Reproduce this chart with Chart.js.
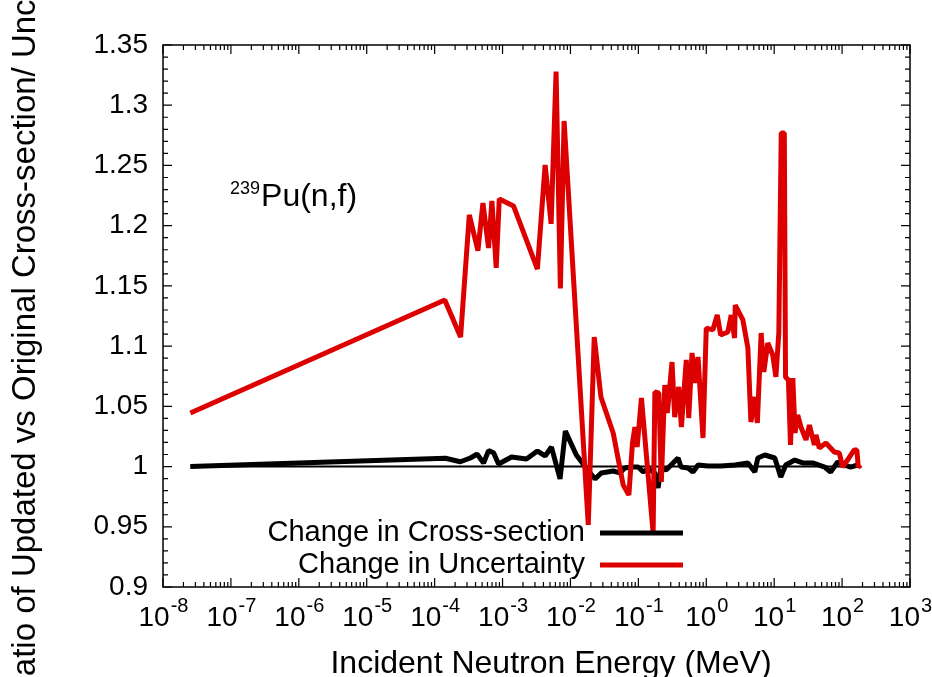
<!DOCTYPE html>
<html>
<head>
<meta charset="utf-8">
<script src="https://cdn.jsdelivr.net/npm/chart.js@4"></script>
<style>
  body { margin: 0; background: #fff; }
  #wrap { width: 932px; height: 677px; }
</style>
</head>
<body>
<div id="wrap"><canvas id="chartCanvas" width="932" height="677"></canvas></div>
<script>
// energies in MeV, ratios
const xsEnergy = [2.53e-8, 1.44e-4, 2.39e-4, 3.36e-4, 4.2e-4, 5.26e-4, 6.22e-4, 7.38e-4, 8.73e-4, 1.36e-3,
  2.25e-3, 3.26e-3, 4.24e-3, 5.25e-3, 7.03e-3, 8.41e-3, 1.22e-2, 1.64e-2, 2.3e-2, 2.84e-2,
  4.27e-2, 5.35e-2, 6.33e-2, 7.84e-2, 9.93e-2, 0.118, 0.139, 0.175, 0.195, 0.216,
  0.256, 0.303, 0.384, 0.425, 0.538, 0.638, 0.756, 1.06, 1.64, 2.64,
  4.1, 5.19, 5.74, 7.28, 10.2, 12.5, 14.8, 20.1, 26.3, 36.9,
  55.4, 67.8, 85.9, 109, 133, 169];
const xsRatio = [1.0, 1.0069, 1.004, 1.0071, 1.0104, 1.0029, 1.0132, 1.0115, 1.0021, 1.0079,
  1.0063, 1.0129, 1.0088, 1.0162, 0.9897, 1.0295, 1.0096, 1.0, 0.9897, 0.9947,
  0.9963, 0.9947, 0.9988, 0.9996, 0.9996, 0.9955, 0.998, 0.9947, 0.9822, 0.9996,
  0.9971, 1.0013, 1.0071, 0.9996, 0.9988, 0.9955, 1.0013, 1.0004, 1.0004, 1.0013,
  1.003, 0.9955, 1.0071, 1.0096, 1.0071, 0.9913, 1.0013, 1.0054, 1.003, 1.003,
  0.9996, 0.9955, 1.0038, 1.0013, 0.9996, 1.0013];

const uncEnergy = [2.53e-8, 1.41e-4, 2.41e-4, 3.24e-4, 4.34e-4, 5.14e-4, 6.22e-4, 6.97e-4, 8.07e-4, 8.95e-4,
  1.45e-3, 3.26e-3, 4.24e-3, 5.19e-3, 6.14e-3, 7.11e-3, 8.06e-3, 1.83e-2, 2.24e-2, 2.81e-2,
  4.26e-2, 5.98e-2, 7.25e-2, 8.19e-2, 8.89e-2, 9.6e-2, 0.111, 0.165, 0.175, 0.2,
  0.218, 0.245, 0.267, 0.313, 0.343, 0.393, 0.43, 0.508, 0.552, 0.617,
  0.69, 0.756, 0.895, 1.0, 1.25, 1.45, 1.63, 2.08, 2.33, 2.61,
  2.67, 3.46, 4.1, 4.54, 5.19, 5.65, 6.43, 7.04, 8.05, 9.53,
  10.6, 11.7, 12.7, 14.1, 14.7, 16.2, 17.4, 18.8, 20.3, 22.2,
  24.8, 29.4, 33, 39.1, 41.2, 46.2, 57.8, 76.8, 91, 101.7,
  120, 151, 165, 173, 189];
const uncRatio = [1.0445, 1.1383, 1.1076, 1.2089, 1.1792, 1.2188, 1.1815, 1.2205, 1.1649, 1.2222,
  1.2164, 1.164, 1.2504, 1.2015, 1.3279, 1.1478, 1.2869, 0.9515, 1.1076, 1.0578,
  1.0279, 0.9847, 0.9764, 1.0196, 1.0328, 1.0162, 1.0569, 0.9448, 1.0619, 1.0611,
  0.9872, 1.0677, 1.0445, 1.0868, 1.0411, 1.0661, 1.0328, 1.0885, 1.0403, 1.0943,
  1.0694, 1.091, 1.0237, 1.115, 1.1134, 1.1258, 1.1092, 1.1117, 1.1258, 1.1067,
  1.1341, 1.1217, 1.0984, 1.037, 1.0578, 1.0362, 1.1109, 1.0785, 1.1026, 1.0926,
  1.0744, 1.1109, 1.277, 1.277, 1.0744, 1.0719, 1.0179, 1.0735, 1.0279, 1.0428,
  1.0328, 1.0221, 1.0345, 1.0179, 1.0262, 1.0154, 1.0196, 1.0121, 1.0113, 0.9996,
  1.0054, 1.0138, 1.0138, 0.9996, 1.0013];

// y = 1 reference line
const refEnergy = [2.53e-8, 189];
const refRatio = [1, 1];

const xTickExps = [-8, -7, -6, -5, -4, -3, -2, -1, 0, 1, 2, 3];
const yTicks = [0.9, 0.95, 1, 1.05, 1.1, 1.15, 1.2, 1.25, 1.3, 1.35];
const yTickLabels = ['0.9', '0.95', '1', '1.05', '1.1', '1.15', '1.2', '1.25', '1.3', '1.35'];
const seriesLabels = ['Change in Cross-section', 'Change in Uncertainty'];
const xTitle = 'Incident Neutron Energy (MeV)';
const yTitle = 'Ratio of Updated vs Original Cross-section/ Uncertainty';

const RED = '#dc0000';
const FONT = '"Liberation Sans", Arial, sans-serif';

function pts(xs, ys) {
  return xs.map(function (x, i) { return { x: x, y: ys[i] }; });
}

const gnuplotFrame = {
  id: 'gnuplotFrame',
  afterDraw(chart) {
    const c = chart.ctx;
    const a = chart.chartArea;
    const xs = chart.scales.x, ys = chart.scales.y;
    c.save();
    c.strokeStyle = '#000';
    c.lineWidth = 1.5;
    c.strokeRect(a.left, a.top, a.right - a.left, a.bottom - a.top);

    // x ticks, major and minor, mirrored on top
    c.lineWidth = 1.2;
    c.beginPath();
    for (let e = -8; e <= 3; e++) {
      for (let m = 1; m <= 9; m++) {
        const v = m * Math.pow(10, e);
        if (v > 1e3 * 1.0001) break;
        const px = xs.getPixelForValue(v);
        const len = m === 1 ? 9 : 5;
        c.moveTo(px, a.bottom); c.lineTo(px, a.bottom - len);
        c.moveTo(px, a.top); c.lineTo(px, a.top + len);
      }
    }
    // y ticks
    for (let k = 0; k <= 45; k++) {
      const v = 0.9 + k * 0.01;
      const py = ys.getPixelForValue(v);
      const len = k % 5 === 0 ? 9 : 5;
      c.moveTo(a.left, py); c.lineTo(a.left + len, py);
      c.moveTo(a.right, py); c.lineTo(a.right - len, py);
    }
    c.stroke();

    c.fillStyle = '#000';
    // y tick labels
    c.font = '28px ' + FONT;
    c.textAlign = 'right';
    c.textBaseline = 'middle';
    yTicks.forEach(function (v, i) {
      c.fillText(yTickLabels[i], 148, ys.getPixelForValue(v));
    });

    // x tick labels 10^n
    c.textBaseline = 'alphabetic';
    c.textAlign = 'left';
    xTickExps.forEach(function (e) {
      const px = xs.getPixelForValue(Math.pow(10, e));
      c.font = '28px ' + FONT;
      const wb = c.measureText('10').width;
      c.font = '20px ' + FONT;
      const we = c.measureText(String(e)).width;
      const x0 = px - (wb + we) / 2;
      c.font = '28px ' + FONT;
      c.fillText('10', x0, 626);
      c.font = '20px ' + FONT;
      c.fillText(String(e), x0 + wb + 1, 612);
    });

    // axis titles
    c.font = '32px ' + FONT;
    c.textAlign = 'center';
    c.fillText(xTitle, 551, 673);
    c.save();
    c.font = '33px ' + FONT;
    c.translate(35, 700);
    c.rotate(-Math.PI / 2);
    c.textAlign = 'left';
    c.fillText(yTitle, 0, 0);
    c.restore();

    // annotation 239Pu(n,f)
    c.textAlign = 'left';
    c.font = '18px ' + FONT;
    c.fillText('239', 230, 194);
    const w239 = c.measureText('239').width;
    c.font = '32px ' + FONT;
    c.fillText('Pu(n,f)', 230 + w239 + 1, 206);

    // legend
    const legendRows = [
      { label: seriesLabels[0], color: '#000', y: 533 },
      { label: seriesLabels[1], color: RED, y: 565 }
    ];
    c.font = '29px ' + FONT;
    legendRows.forEach(function (r) {
      c.textAlign = 'right';
      c.textBaseline = 'middle';
      c.fillStyle = '#000';
      c.fillText(r.label, 585, r.y);
      c.strokeStyle = r.color;
      c.lineWidth = 5;
      c.beginPath();
      c.moveTo(600, r.y); c.lineTo(683, r.y);
      c.stroke();
    });
    c.restore();
  }
};

const ctx = document.getElementById('chartCanvas');
const chart = new Chart(ctx, {
  type: 'line',
  data: {
    datasets: [
      {
        label: seriesLabels[1],
        data: pts(uncEnergy, uncRatio),
        borderColor: RED,
        borderWidth: 5,
        borderJoinStyle: 'bevel',
        pointRadius: 0,
        tension: 0,
        fill: false,
        order: 0
      },
      {
        label: seriesLabels[0],
        data: pts(xsEnergy, xsRatio),
        borderColor: '#000',
        borderWidth: 5,
        borderJoinStyle: 'bevel',
        pointRadius: 0,
        tension: 0,
        fill: false,
        order: 1
      },
      {
        label: 'ratio = 1',
        data: pts(refEnergy, refRatio),
        borderColor: '#000',
        borderWidth: 2,
        pointRadius: 0,
        fill: false,
        order: 2
      }
    ]
  },
  options: {
    responsive: false,
    animation: false,
    devicePixelRatio: 1,
    layout: { padding: { left: 163, right: 22, top: 45, bottom: 90 } },
    plugins: { legend: { display: false }, tooltip: { enabled: false } },
    scales: {
      x: {
        type: 'logarithmic', min: 1e-8, max: 1e3,
        ticks: { display: false },
        grid: { display: false, drawTicks: false },
        border: { display: false }
      },
      y: {
        type: 'linear', min: 0.9, max: 1.35,
        ticks: { display: false },
        grid: { display: false, drawTicks: false },
        border: { display: false }
      }
    }
  },
  plugins: [gnuplotFrame]
});
</script>
</body>
</html>
